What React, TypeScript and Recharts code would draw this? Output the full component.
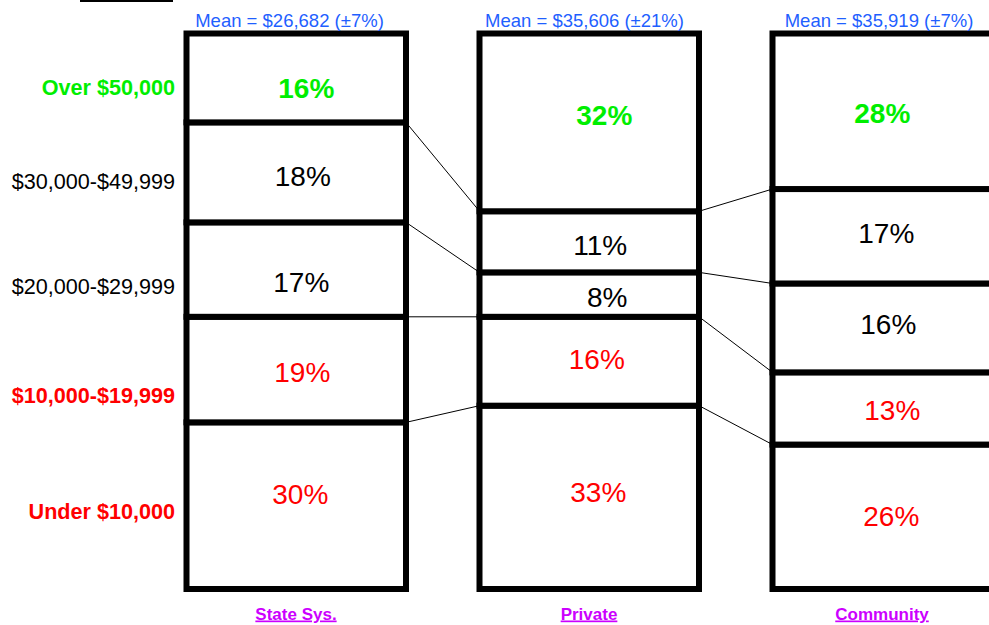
import React from "react";
import { BarChart, Bar, XAxis, YAxis } from "recharts";

// ---- data ----
const categories = ["State Sys.", "Private", "Community"];
const meanLabels = ["Mean = $26,682 (±7%)", "Mean = $35,606 (±21%)", "Mean = $35,919 (±7%)"];
const under10k = [30, 33, 26];
const from10kTo20k = [19, 16, 13];
const from20kTo30k = [17, 8, 16];
const from30kTo50k = [18, 11, 17];
const over50k = [16, 32, 28];
const bandLabels = ["Under $10,000", "$10,000-$19,999", "$20,000-$29,999", "$30,000-$49,999", "Over $50,000"];
const bandLabelTicks = [14, 34.8, 54.5, 73.3, 90.3];

const seriesKeys = ["under", "r10", "r20", "r30", "over"];
const seriesValues = [under10k, from10kTo20k, from20kTo30k, from30kTo50k, over50k];

const data = categories.map((name, i) => {
  const row: any = { name };
  seriesKeys.forEach((k, s) => (row[k] = seriesValues[s][i]));
  return row;
});

// ---- style / layout ----
const FONT = "'Liberation Sans', Arial, sans-serif";
const RED = "#ff0000";
const GREEN = "#00ee00";
const BLUE = "#1f5fff";
const PURPLE = "#cc00ff";
const CHART_W = 1040;
const CHART_H = 625;
const MARGIN = { top: 0, right: 11.5, bottom: 0, left: 0 };
const YAXIS_W = 149.5;
const BAR_SIZE = 219.5;
const BAND = (CHART_W - MARGIN.left - MARGIN.right - YAXIS_W) / categories.length;
const GAP = BAND - BAR_SIZE;
const MEAN_DX = [-6.5, -4.5, -3];
// label nudges [dx, dy] per series (bottom→top) per column, as placed in the original
const LABEL_NUDGE = [
  [[4, -12], [9, -5], [9, -1]],
  [[6, 2], [7.5, -2], [10, 2]],
  [[5, 12], [18, 2], [6, -4]],
  [[6.5, 4], [11, 3.5], [4, -3]],
  [[10, 10], [15, -7], [0, 2]],
];

const segmentLabelStyle = [
  { fill: RED, weight: 400 },
  { fill: RED, weight: 400 },
  { fill: "#000", weight: 400 },
  { fill: "#000", weight: 400 },
  { fill: GREEN, weight: 700 },
];
const bandLabelStyle = [
  { fill: RED, weight: 700 },
  { fill: RED, weight: 700 },
  { fill: "#000", weight: 400 },
  { fill: "#000", weight: 400 },
  { fill: GREEN, weight: 700 },
];

const cumTop = (k: number, col: number) =>
  seriesValues.slice(0, k + 1).reduce((s, arr) => s + arr[col], 0);

const makeShape = (k: number) => (props: any) => {
  const { x, y, width, height } = props;
  let i = typeof props.index === "number" ? props.index : categories.indexOf(props.payload?.name);
  if (i < 0) i = categories.indexOf(props.payload?.name);
  const v = seriesValues[k][i];
  const ppu = height / v;
  const bottom = y + height + (cumTop(k, i) - v) * ppu;
  const st = segmentLabelStyle[k];
  const [ndx, ndy] = LABEL_NUDGE[k][i];
  return (
    <g>
      <rect x={x} y={y} width={width} height={height} fill="#fff" stroke="#000" strokeWidth={6} />
      {k < seriesKeys.length - 1 && i < categories.length - 1 ? (
        <line
          x1={x + width}
          y1={y}
          x2={x + width + GAP}
          y2={bottom - cumTop(k, i + 1) * ppu}
          stroke="#000"
          strokeWidth={1}
        />
      ) : null}
      <text
        x={x + width / 2 + ndx}
        y={y + height / 2 + 10 + ndy}
        textAnchor="middle"
        fontSize={28}
        fontWeight={st.weight}
        fill={st.fill}
        fontFamily={FONT}
      >
        {v}%
      </text>
    </g>
  );
};

const BandTick = (props: any) => {
  const { x, y, payload } = props;
  const idx = bandLabelTicks.indexOf(payload.value);
  if (idx < 0) return null;
  const st = bandLabelStyle[idx];
  return (
    <text
      x={x + 25.5}
      y={y + 7.5}
      textAnchor="end"
      fontSize={21.6}
      fontWeight={st.weight}
      fill={st.fill}
      fontFamily={FONT}
    >
      {bandLabels[idx]}
    </text>
  );
};

const CategoryTick = (props: any) => {
  const { x, y, payload } = props;
  return (
    <text
      x={x}
      y={y + 30.5}
      textAnchor="middle"
      fontSize={17}
      fontWeight={700}
      fill={PURPLE}
      textDecoration="underline"
      fontFamily={FONT}
    >
      {payload.value}
    </text>
  );
};

const MeanTick = (props: any) => {
  const { x, y, payload } = props;
  const idx = categories.indexOf(payload.value);
  return (
    <text x={x + MEAN_DX[idx]} y={y - 7} textAnchor="middle" fontSize={18.5} fill={BLUE} fontFamily={FONT}>
      {meanLabels[idx]}
    </text>
  );
};

export default function App() {
  return (
    <div
      style={{
        position: "absolute",
        left: 0,
        top: 0,
        width: 989,
        height: 625,
        overflow: "hidden",
        background: "#fff",
      }}
    >
      <div style={{ position: "absolute", left: 80, top: 0, width: 93, height: 2, background: "#000" }} />
      <BarChart width={CHART_W} height={CHART_H} data={data} margin={MARGIN} barSize={BAR_SIZE}>
        <XAxis
          dataKey="name"
          type="category"
          height={36}
          axisLine={false}
          tickLine={false}
          tickSize={0}
          tickMargin={0}
          tick={<CategoryTick />}
          interval={0}
        />
        <XAxis
          xAxisId="top"
          orientation="top"
          dataKey="name"
          type="category"
          height={33.5}
          axisLine={false}
          tickLine={false}
          tickSize={0}
          tickMargin={0}
          tick={<MeanTick />}
          interval={0}
        />
        <YAxis
          type="number"
          domain={[0, 100]}
          width={YAXIS_W}
          ticks={bandLabelTicks}
          axisLine={false}
          tickLine={false}
          tickSize={0}
          tickMargin={0}
          tick={<BandTick />}
          interval={0}
        />
        {seriesKeys.map((key, k) => (
          <Bar key={key} dataKey={key} stackId="a" isAnimationActive={false} shape={makeShape(k)} />
        ))}
      </BarChart>
    </div>
  );
}
